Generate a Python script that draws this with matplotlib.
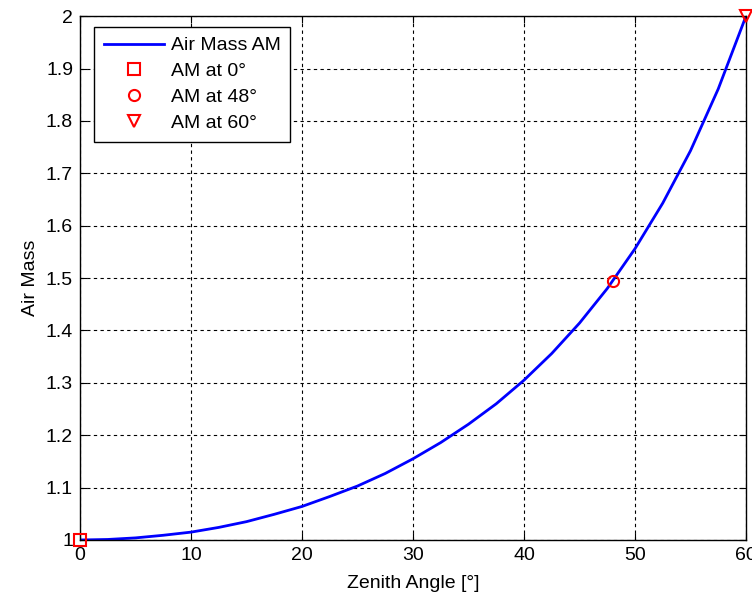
import numpy as np
import matplotlib.pyplot as plt

plt.rcParams['font.family'] = ['Liberation Sans', 'DejaVu Sans']

# values
zenith = [0, 2.5, 5, 7.5, 10, 12.5, 15, 17.5, 20, 22.5, 25, 27.5, 30,
          32.5, 35, 37.5, 40, 42.5, 45, 47.5, 50, 52.5, 55, 57.5, 60]
air_mass = [1.000, 1.001, 1.004, 1.009, 1.015, 1.024, 1.035, 1.049, 1.064,
            1.083, 1.103, 1.127, 1.155, 1.186, 1.221, 1.260, 1.305, 1.356,
            1.414, 1.480, 1.556, 1.643, 1.743, 1.861, 2.000]

mark_angles = [0, 48, 60]
mark_am = [1.000, 1.494, 2.000]
mark_labels = ['AM at 0°', 'AM at 48°', 'AM at 60°']
mark_shapes = ['s', 'o', 'v']
mark_sizes = [9, 8, 9]

fig = plt.figure(figsize=(7.52, 5.97), dpi=100)
ax = fig.add_axes([0.1064, 0.0955, 0.8856, 0.8775])

ax.plot(zenith, air_mass, color='blue', lw=2, label='Air Mass AM')
for a, m, lab, shp, sz in zip(mark_angles, mark_am, mark_labels,
                              mark_shapes, mark_sizes):
    ax.plot(a, m, shp, ms=sz, mfc='none', mec='red', mew=1.5,
            clip_on=False, zorder=5, label=lab)

ax.set_xlim(0, 60)
ax.set_ylim(1, 2)
ax.set_xticks(np.arange(0, 61, 10))
ax.set_yticks(np.arange(1, 2.01, 0.1))
ax.set_yticklabels(['1', '1.1', '1.2', '1.3', '1.4', '1.5', '1.6', '1.7',
                    '1.8', '1.9', '2'])
ax.grid(True, color='black', linestyle=(0, (3, 3)), lw=0.8)
ax.tick_params(direction='in', top=True, right=True, labelsize=14,
               length=5, pad=5)
for s in ax.spines.values():
    s.set_linewidth(1)

ax.set_xlabel('Zenith Angle [°]', fontsize=14, labelpad=8)
ax.set_ylabel('Air Mass', fontsize=14, labelpad=5)

leg = ax.legend(loc='upper left', bbox_to_anchor=(0.021, 0.979),
                borderaxespad=0, fontsize=14, handlelength=3.1,
                handletextpad=0.35, labelspacing=0.42, fancybox=False,
                framealpha=1, edgecolor='black', borderpad=0.5)
leg.get_frame().set_linewidth(1)

fig.savefig('out.png', dpi=100)
